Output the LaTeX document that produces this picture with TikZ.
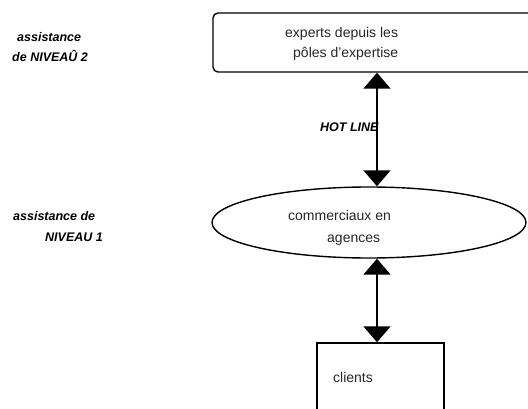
\documentclass[tikz,border=0pt]{standalone}
\usepackage{fontspec}
\setmainfont{Liberation Sans}
\usetikzlibrary{arrows.meta,shapes.geometric}
\begin{document}
\begin{tikzpicture}[x=1pt,y=-1pt,
  shapeline/.style={draw=black,line width=1.4pt},
  bigarrow/.style={line width=1.6pt,{Triangle[width=27pt,length=16pt]}-{Triangle[width=27pt,length=16pt]}},
  plaintext/.style={inner sep=0pt,anchor=base west,text=black!85,font=\fontsize{14}{17}\selectfont},
  labeltext/.style={inner sep=0pt,anchor=base west,text=black,font=\fontsize{12.5}{15}\selectfont\bfseries\itshape}]
\useasboundingbox (0,0) rectangle (528,409);
% shapes
\node[shapeline,rounded corners=5pt,rectangle,minimum width=327pt,minimum height=59pt,inner sep=0pt] (experts) at (376.5,42.5) {};
\node[shapeline,ellipse,minimum width=314pt,minimum height=71pt,inner sep=0pt] (agences) at (369,222.5) {};
\node[shapeline,rectangle,minimum width=127pt,minimum height=80pt,inner sep=0pt] (clients) at (380.5,383) {};
\coordinate (ax) at (377,0);
% connectors
\draw[bigarrow] (experts.south -| ax) -- (agences.north -| ax);
\draw[bigarrow] (agences.south -| ax) -- (clients.north -| ax);
% texts
\node[plaintext] (t1) at (285,38) {experts depuis les};
\node[plaintext] (t2) at (293,58) {pôles d'expertise};
\node[plaintext] (t3) at (288,221) {commerciaux en};
\node[plaintext] (t4) at (327,243) {agences};
\node[plaintext] (t5) at (333,382) {clients};
\node[labeltext] (l1) at (320,132) {HOT LINE};
\node[labeltext] (l2) at (17,42) {assistance};
\node[labeltext] (l3) at (12,62) {de NIVEAÛ 2};
\node[labeltext] (l4) at (13,221) {assistance de};
\node[labeltext] (l5) at (45,241) {NIVEAU 1};
\end{tikzpicture}
\end{document}
